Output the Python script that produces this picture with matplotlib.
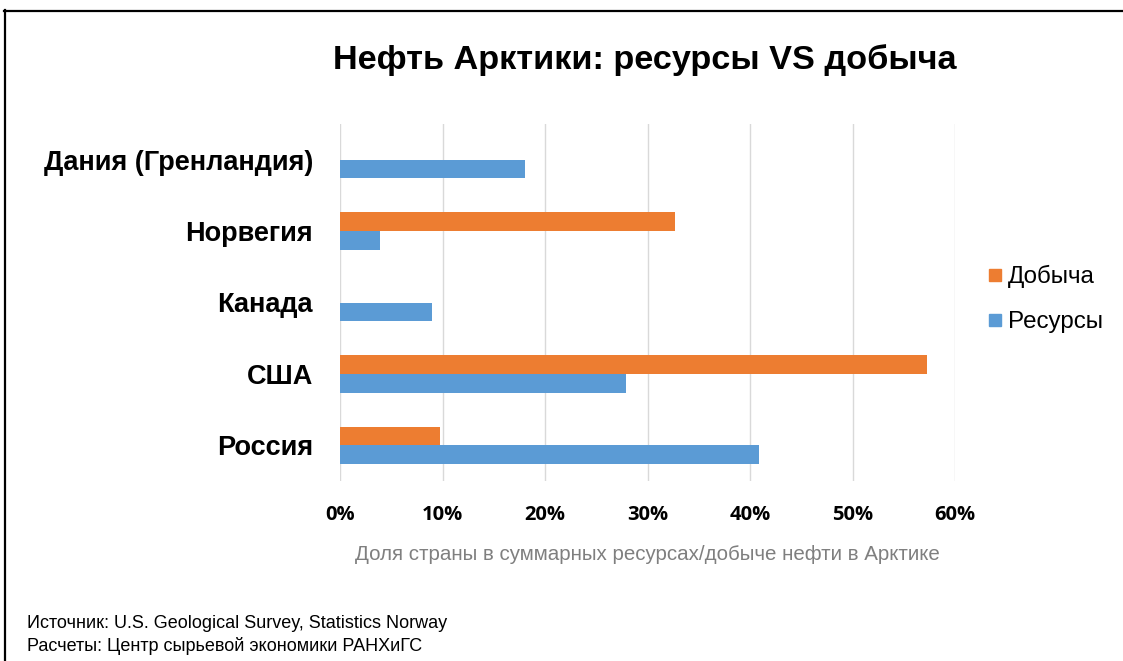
import matplotlib
matplotlib.use("Agg")
import matplotlib.pyplot as plt
from matplotlib.lines import Line2D
import numpy as np

categories = ["Дания (Гренландия)", "Норвегия", "Канада", "США", "Россия"]
production = [np.nan, 32.7, np.nan, 57.3, 9.8]
resources = [18.0, 3.9, 9.0, 27.9, 40.9]
xticks = [0, 10, 20, 30, 40, 50, 60]
xtick_labels = ["0%", "10%", "20%", "30%", "40%", "50%", "60%"]

W, H = 1123, 661
fig = plt.figure(figsize=(W / 100, H / 100), dpi=100)
fig.patch.set_facecolor("white")

def fx(px):
    return px / W

def fy(py):
    return 1 - py / H

ax = fig.add_axes([fx(340), fy(481), fx(955) - fx(340), fy(124) - fy(481)])

orange = "#ED7D31"
blue = "#5B9BD5"
h = 0.262
y = np.arange(len(categories))
ax.barh(y - h / 2, production, height=h, color=orange, label="Добыча", zorder=3)
ax.barh(y + h / 2, resources, height=h, color=blue, label="Ресурсы", zorder=3)

ax.set_ylim(len(categories) - 0.5, -0.5)
ax.set_xlim(0, 60)
ax.set_yticks(y)
ax.set_yticklabels(categories, fontsize=19.5, fontweight="bold",
                   family="Liberation Sans")
ax.set_xticks(xticks)
ax.set_xticklabels(xtick_labels, fontsize=14.5, fontweight="bold", family="Open Sans")
ax.tick_params(axis="both", length=0)
ax.tick_params(axis="y", pad=19.5)
ax.tick_params(axis="x", pad=17)
for s in ax.spines.values():
    s.set_visible(False)
ax.grid(axis="x", color="#D9D9D9", linewidth=1, zorder=0)
ax.set_axisbelow(True)

ax.set_xlabel("Доля страны в суммарных ресурсах/добыче нефти в Арктике",
              fontsize=14.8, color="#7F7F7F", family="Liberation Sans", labelpad=15)

fig.text(fx(645), fy(60), "Нефть Арктики: ресурсы VS добыча", fontsize=24.7,
         fontweight="bold", family="Liberation Sans", ha="center", va="center")

handles = [Line2D([], [], marker="s", linestyle="none", color=orange, markersize=8),
           Line2D([], [], marker="s", linestyle="none", color=blue, markersize=8)]
fig.legend(handles, ["Добыча", "Ресурсы"], loc="center left",
           bbox_to_anchor=(fx(967), fy(299)), frameon=False,
           prop={"family": "Liberation Sans", "size": 17.4},
           handlelength=0.5, handletextpad=0.3, labelspacing=0.95)

fig.text(fx(27), fy(624), "Источник: U.S. Geological Survey, Statistics Norway",
         fontsize=13, family="Liberation Sans", ha="left", va="center")
fig.text(fx(27), fy(646), "Расчеты: Центр сырьевой экономики РАНХиГС",
         fontsize=13, family="Liberation Sans", ha="left", va="center")

fig.add_artist(Line2D([fx(4), fx(1123)], [fy(10.5), fy(10.5)], color="black",
                      linewidth=1.6, transform=fig.transFigure))
fig.add_artist(Line2D([fx(4.5), fx(4.5)], [fy(10), fy(661)], color="black",
                      linewidth=1.6, transform=fig.transFigure))

fig.savefig("out.png", dpi=100, facecolor="white")
